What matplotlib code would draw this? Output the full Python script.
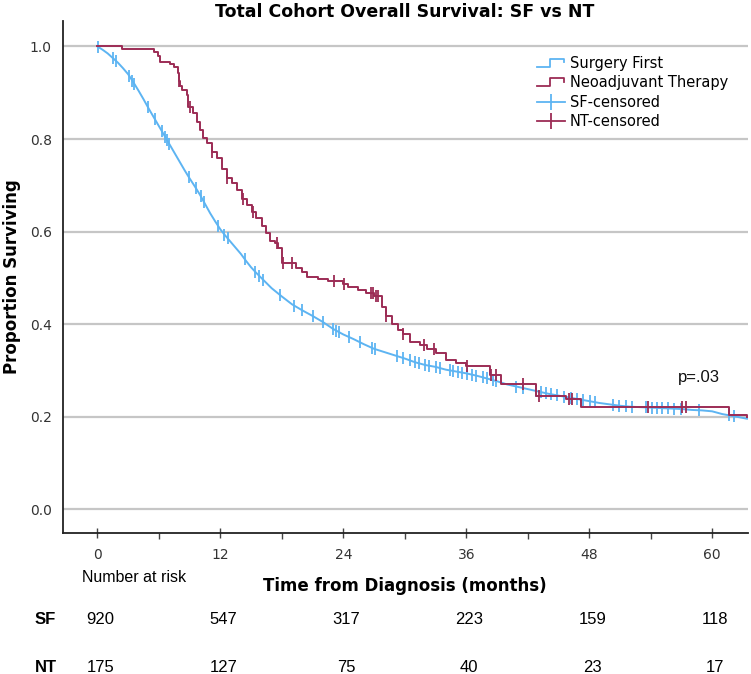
import numpy as np
import matplotlib
matplotlib.use('Agg')
import matplotlib.pyplot as plt
from matplotlib.lines import Line2D
from matplotlib.legend_handler import HandlerBase
import matplotlib.transforms as mtransforms

# ---------------- data ----------------
sf_time = [0, 0.5, 1, 1.5, 2, 2.5, 3, 3.5, 4, 4.5, 5, 5.5, 6, 6.5, 7, 7.5, 8, 8.5,
           9, 9.5, 10, 10.5, 11, 11.5, 12, 12.5, 13, 13.5, 14, 14.5, 15, 15.5, 16,
           17, 18, 19, 20, 21, 22, 23, 24, 25, 26, 27, 28, 29, 30, 31, 32, 33, 34,
           35, 36, 37, 38, 39, 40, 41, 42, 43, 44, 45, 46, 47, 48, 49, 50, 51, 52,
           53, 54, 55, 56, 57, 58, 59, 60, 61, 62, 63.4]
sf_surv = [1.000, 0.993, 0.985, 0.975, 0.965, 0.953, 0.940, 0.923, 0.905, 0.886,
           0.866, 0.847, 0.828, 0.809, 0.790, 0.771, 0.752, 0.733, 0.715, 0.698,
           0.680, 0.660, 0.640, 0.622, 0.605, 0.591, 0.578, 0.565, 0.552, 0.537,
           0.523, 0.511, 0.500, 0.478, 0.460, 0.443, 0.430, 0.418, 0.405, 0.390,
           0.378, 0.368, 0.357, 0.347, 0.340, 0.333, 0.326, 0.318, 0.312, 0.308,
           0.302, 0.298, 0.294, 0.289, 0.283, 0.277, 0.270, 0.265, 0.260, 0.255,
           0.250, 0.246, 0.242, 0.238, 0.234, 0.230, 0.227, 0.224, 0.222, 0.221,
           0.220, 0.219, 0.218, 0.217, 0.215, 0.214, 0.212, 0.206, 0.202, 0.196]

nt_time = [0, 2.4, 5.5, 5.9, 6.1, 7.1, 7.5, 7.85, 8.0, 8.1, 8.3, 8.7, 8.8, 9.3, 9.7,
           10.0, 10.3, 10.7, 11.2, 11.7, 12.2, 12.6, 13.1, 13.6, 14.1, 14.6, 15.1,
           15.5, 16.1, 16.5, 16.8, 17.3, 17.6, 18.0, 19.4, 20.0, 20.5, 21.5, 22.5,
           24.0, 24.5, 25.4, 26.2, 27.0, 27.8, 28.2, 28.8, 29.3, 29.8, 30.5, 31.5,
           32.2, 33.0, 34.0, 35.0, 36.0, 38.3, 39.4, 42.8, 45.7, 47.2, 61.6, 63.4]
nt_surv = [1.000, 0.995, 0.989, 0.980, 0.967, 0.962, 0.956, 0.943, 0.925, 0.915,
           0.906, 0.895, 0.870, 0.856, 0.837, 0.820, 0.803, 0.791, 0.772, 0.760,
           0.735, 0.716, 0.705, 0.690, 0.670, 0.658, 0.643, 0.630, 0.612, 0.597,
           0.580, 0.575, 0.565, 0.532, 0.522, 0.512, 0.502, 0.497, 0.494, 0.487,
           0.480, 0.475, 0.467, 0.460, 0.437, 0.418, 0.400, 0.388, 0.378, 0.362,
           0.355, 0.347, 0.337, 0.323, 0.316, 0.310, 0.290, 0.270, 0.245, 0.238,
           0.222, 0.204, 0.200]

sf_censored = [0.1, 1.5, 1.8, 3.1, 3.4, 3.6, 4.9, 5.6, 6.3, 6.6, 6.8, 7.0, 8.9, 9.6,
               10.1, 10.4, 11.8, 12.4, 12.7, 14.4, 15.4, 15.8, 16.2, 17.8, 19.2,
               20.0, 21.0, 22.0, 23.0, 23.3, 23.6, 24.6, 25.6, 26.8, 27.1, 29.2,
               29.8, 30.5, 31.0, 31.4, 32.0, 32.4, 33.0, 33.4, 34.4, 34.7, 35.2,
               35.6, 36.1, 36.6, 37.0, 37.6, 38.0, 38.6, 38.9, 40.9, 41.5, 42.8,
               43.3, 43.8, 44.3, 44.9, 45.5, 46.2, 46.8, 47.4, 48.1, 48.6, 50.3,
               50.9, 51.6, 52.2, 53.5, 54.1, 54.6, 55.1, 55.7, 56.3, 57.0, 58.7,
               61.6, 62.1]
nt_censored = [8.0, 9.0, 11.2, 12.6, 14.2, 15.2, 17.5, 18.1, 19.0, 23.1, 24.1, 26.7,
               26.9, 27.2, 27.4, 28.2, 29.8, 31.9, 32.9, 36.1, 38.4, 38.9, 41.5,
               43.1, 46.0, 46.3, 53.7, 57.1, 57.4]

risk_months = [0, 12, 24, 36, 48, 60]
sf_at_risk = [920, 547, 317, 223, 159, 118]
nt_at_risk = [175, 127, 75, 40, 23, 17]

x_ticks = [0, 12, 24, 36, 48, 60]
y_ticks = [0.0, 0.2, 0.4, 0.6, 0.8, 1.0]

labels = ["Surgery First", "Neoadjuvant Therapy", "SF-censored", "NT-censored"]
p_text = "p=.03"

# ---------------- style ----------------
BLUE = '#5DB4F2'
RED = '#9C2C55'
W, H = 751, 674

fig = plt.figure(figsize=(W / 100, H / 100), dpi=100)
ax = fig.add_axes([63 / W, 1 - 533 / H, (748 - 63) / W, (533 - 21) / H])

ax.set_xlim(-3.36, 63.5)
ax.set_ylim(-0.0508, 1.055)

ax.set_axisbelow(True)
ax.yaxis.grid(True, color='#C6C6C6', lw=1.6)

# curves
ax.plot(sf_time, sf_surv, color=BLUE, lw=1.4, zorder=3)
ax.step(nt_time, nt_surv, where='post', color=RED, lw=1.4, zorder=4)

# censor marks
sf_c_y = np.interp(sf_censored, sf_time, sf_surv)
nt_idx = np.searchsorted(nt_time, nt_censored, side='right') - 1
nt_c_y = np.asarray(nt_surv)[nt_idx]
ax.plot(sf_censored, sf_c_y, linestyle='none', marker='|', markersize=8,
        mew=1.3, color=BLUE, zorder=3)
ax.plot(nt_censored, nt_c_y, linestyle='none', marker='|', markersize=8,
        mew=1.3, color=RED, zorder=4)

# axes styling
for s in ['top', 'right']:
    ax.spines[s].set_visible(False)
for s in ['left', 'bottom']:
    ax.spines[s].set_color('#222222')
    ax.spines[s].set_linewidth(1.3)

ax.set_yticks(y_ticks)
ax.set_yticklabels([f"{v:.1f}" for v in y_ticks])
ax.tick_params(axis='y', length=0, pad=8, labelsize=10, labelcolor='#333333')
ax.set_xticks(x_ticks)
ax.set_xticks([6, 18, 30, 42, 54], minor=True)
ax.tick_params(axis='x', which='major', direction='inout', length=7, width=1,
               color='#444444', pad=7, labelsize=10, labelcolor='#333333')
ax.tick_params(axis='x', which='minor', direction='out', length=4, width=1,
               color='#444444')

# p value
ax.text(58.7, 0.284, p_text, ha='center', va='center', fontsize=12,
        family='Liberation Sans', color='#111111')

# legend
class StepHandler(HandlerBase):
    def create_artists(self, legend, orig_handle, xdescent, ydescent, width,
                       height, fontsize, trans):
        x0, y0 = -xdescent, -ydescent
        xs = [x0, x0 + 0.47 * width, x0 + 0.47 * width, x0 + 0.97 * width,
              x0 + 0.97 * width]
        ys = [y0 + 0.1 * height, y0 + 0.1 * height, y0 + 0.9 * height,
              y0 + 0.9 * height, y0 + 0.55 * height]
        ln = Line2D(xs, ys, color=orig_handle.get_color(),
                    lw=orig_handle.get_linewidth())
        ln.set_transform(trans)
        return [ln]

h_sf = Line2D([], [], color=BLUE, lw=1.3)
h_nt = Line2D([], [], color=RED, lw=1.3)
h_sfc = Line2D([0], [0], color=BLUE, lw=1.3, marker='|', markersize=11, mew=1.3)
h_ntc = Line2D([0], [0], color=RED, lw=1.3, marker='|', markersize=11, mew=1.3)
fig.legend([h_sf, h_nt, h_sfc, h_ntc], labels, loc='upper left',
           bbox_to_anchor=(537 / W, 1 - 56 / H), frameon=False, borderpad=0,
           borderaxespad=0, handlelength=1.9, handletextpad=0.35,
           labelspacing=0.3, fontsize=10.5, numpoints=1,
           handler_map={h_sf: StepHandler(), h_nt: StepHandler()})

# titles / labels
fig.text(405 / W, 1 - 12 / H, "Total Cohort Overall Survival: SF vs NT",
         ha='center', va='center', fontsize=12.5, fontweight='bold')
fig.text(12 / W, 1 - 277 / H, "Proportion Surviving", rotation=90,
         ha='center', va='center', fontsize=12, fontweight='bold')
fig.text(405 / W, 1 - 586 / H, "Time from Diagnosis (months)",
         ha='center', va='center', fontsize=12, fontweight='bold')

# number at risk table
fig.text(82 / W, 1 - 577 / H, "Number at risk", ha='left', va='center',
         fontsize=11.5, family='Liberation Sans')
trans = mtransforms.blended_transform_factory(ax.transData, fig.transFigure)
for label, counts, ypix in [("SF", sf_at_risk, 620), ("NT", nt_at_risk, 667)]:
    fig.text(35 / W, 1 - ypix / H, label, ha='left', va='center', fontsize=12,
             fontweight='bold', family='Liberation Sans')
    for m, n in zip(risk_months, counts):
        ax.text(m + 0.3, 1 - ypix / H, str(n), transform=trans, ha='center',
                va='center', fontsize=12, family='Liberation Sans',
                clip_on=False)

fig.savefig('out.png', dpi=100)
